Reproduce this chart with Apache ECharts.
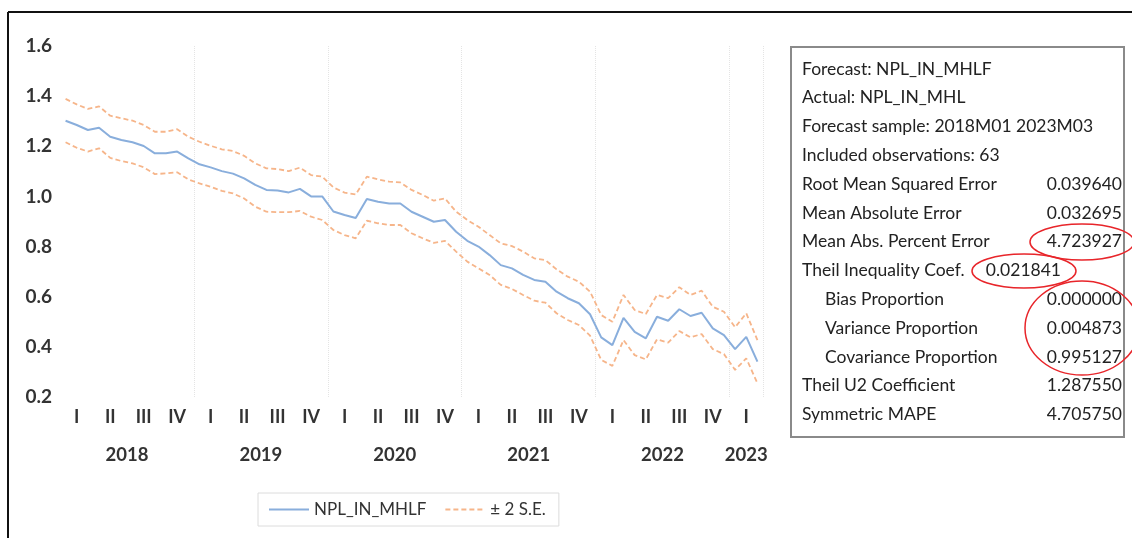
<!DOCTYPE html>
<html>
<head>
<meta charset="utf-8">
<title>NPL_IN_MHLF forecast</title>
<script src="https://cdn.jsdelivr.net/npm/echarts@6/dist/echarts.min.js"></script>
<style>
  html, body { margin: 0; padding: 0; background: #fff; }
  #chart { width: 1132px; height: 538px; }
</style>
</head>
<body>
<div id="chart"></div>
<script>
// forecast sample 2018M01 .. 2023M03 (63 obs)
const months = [];
for (let y = 2018; y <= 2023; y++) {
  for (let m = 1; m <= 12; m++) {
    if (y === 2023 && m > 3) break;
    months.push(y + 'M' + String(m).padStart(2, '0'));
  }
}

const forecast = [
  1.302, 1.285, 1.265, 1.274, 1.238, 1.225, 1.216, 1.201, 1.172, 1.172, 1.179, 1.152,
  1.128, 1.116, 1.101, 1.091, 1.072, 1.046, 1.026, 1.024, 1.016, 1.030, 1.000, 1.000,
  0.940, 0.926, 0.914, 0.990, 0.979, 0.972, 0.972, 0.939, 0.919, 0.899, 0.906, 0.859,
  0.823, 0.800, 0.766, 0.726, 0.713, 0.687, 0.667, 0.660, 0.620, 0.594, 0.574, 0.530,
  0.438, 0.407, 0.516, 0.460, 0.434, 0.520, 0.504, 0.550, 0.523, 0.536, 0.474, 0.447,
  0.391, 0.440, 0.341
];
const upper = [
  1.389, 1.367, 1.349, 1.359, 1.322, 1.312, 1.302, 1.285, 1.258, 1.258, 1.268, 1.238,
  1.218, 1.202, 1.188, 1.181, 1.162, 1.132, 1.112, 1.109, 1.101, 1.115, 1.085, 1.079,
  1.036, 1.015, 1.008, 1.079, 1.068, 1.059, 1.056, 1.026, 1.006, 0.983, 0.992, 0.939,
  0.906, 0.879, 0.846, 0.813, 0.802, 0.780, 0.753, 0.746, 0.709, 0.680, 0.660, 0.620,
  0.527, 0.500, 0.607, 0.547, 0.531, 0.607, 0.594, 0.638, 0.607, 0.624, 0.560, 0.540,
  0.478, 0.534, 0.427
];
const lower = [
  1.216, 1.194, 1.179, 1.192, 1.154, 1.141, 1.132, 1.116, 1.089, 1.092, 1.096, 1.068,
  1.052, 1.039, 1.022, 1.012, 0.992, 0.959, 0.939, 0.937, 0.937, 0.942, 0.919, 0.906,
  0.866, 0.846, 0.833, 0.903, 0.893, 0.886, 0.886, 0.853, 0.833, 0.815, 0.823, 0.780,
  0.740, 0.713, 0.687, 0.647, 0.631, 0.607, 0.584, 0.576, 0.534, 0.507, 0.487, 0.445,
  0.348, 0.324, 0.427, 0.367, 0.350, 0.430, 0.417, 0.463, 0.438, 0.451, 0.391, 0.371,
  0.308, 0.354, 0.255
];

const quarterNames = ['I', 'II', 'III', 'IV'];

const statLabels = [
  'Forecast: NPL_IN_MHLF',
  'Actual: NPL_IN_MHL',
  'Forecast sample: 2018M01 2023M03',
  'Included observations: 63',
  'Root Mean Squared Error',
  'Mean Absolute Error',
  'Mean Abs. Percent Error',
  'Theil Inequality Coef.',
  'Bias Proportion',
  'Variance Proportion',
  'Covariance Proportion',
  'Theil U2 Coefficient',
  'Symmetric MAPE'
];
const statValues = ['', '', '', '', '0.039640', '0.032695', '4.723927', '0.021841',
  '0.000000', '0.004873', '0.995127', '1.287550', '4.705750'];
const statIndent = [0, 0, 0, 0, 0, 0, 0, 0, 1, 1, 1, 0, 0];

// half-month grid for the year labels (centred on each year's months)
const halfSlots = [];
for (let i = 0; i <= months.length * 2; i++) halfSlots.push(String(i));
const yearAt = {};
months.forEach((m, i) => {
  const y = m.slice(0, 4);
  if (!yearAt[y]) yearAt[y] = { start: i, n: 0 };
  yearAt[y].n++;
});
const yearSlot = {};
Object.keys(yearAt).forEach(y => { yearSlot[2 * yearAt[y].start + yearAt[y].n] = y; });

const labelFont = 'Lato, "Open Sans", sans-serif';

let chart = echarts.init(document.getElementById('chart'));

// frame + stats table as text
let graphics = [
  { type: 'line', shape: { x1: 8, y1: 12, x2: 1132, y2: 12 }, style: { stroke: '#111', lineWidth: 2 } },
  { type: 'line', shape: { x1: 8, y1: 12, x2: 8, y2: 538 }, style: { stroke: '#111', lineWidth: 2 } },
  { type: 'rect', shape: { x: 791, y: 47, width: 333, height: 390 }, style: { fill: '#fff', stroke: '#8a8a8a', lineWidth: 2 } }
];
statLabels.forEach((t, i) => {
  const y = 69 + i * 28.8;
  graphics.push({
    type: 'text', x: statIndent[i] ? 825 : 802, y: y,
    style: { text: t, font: '17.5px ' + labelFont, fill: '#222', verticalAlign: 'middle' }
  });
  if (statValues[i]) {
    graphics.push({
      type: 'text', x: i === 7 ? 1061 : 1122, y: y,
      style: { text: statValues[i], font: '17.5px ' + labelFont, fill: '#222', align: 'right', verticalAlign: 'middle' }
    });
  }
});
// red hand-drawn circles
graphics.push(
  { type: 'ellipse', shape: { cx: 1082, cy: 242, rx: 52, ry: 18 }, style: { fill: 'none', stroke: '#e8252a', lineWidth: 1.5 } },
  { type: 'ellipse', shape: { cx: 1024, cy: 271, rx: 52, ry: 17 }, style: { fill: 'none', stroke: '#e8252a', lineWidth: 1.5 } },
  { type: 'ellipse', shape: { cx: 1082, cy: 328, rx: 57, ry: 47 }, style: { fill: 'none', stroke: '#e8252a', lineWidth: 1.5 } }
);

let option = {
  backgroundColor: '#fff',
  animation: false,
  grid: { left: 60, top: 46, width: 703, bottom: 141 },
  legend: {
    left: 258, top: 493,
    data: ['NPL_IN_MHLF', '± 2 S.E.'],
    borderColor: '#dcdcdc', borderWidth: 1, borderRadius: 0,
    padding: [8, 13, 8, 10], itemWidth: 40, itemHeight: 10, itemGap: 18,
    itemStyle: { opacity: 0 },
    textStyle: { fontFamily: labelFont, fontSize: 17, color: '#333' }
  },
  xAxis: [
    {
      type: 'category', data: months, boundaryGap: true,
      axisLine: { show: false }, axisTick: { show: false },
      axisLabel: {
        interval: (idx) => idx % 3 === 1,
        formatter: (v) => quarterNames[Math.ceil(parseInt(v.slice(5), 10) / 3) - 1],
        margin: 11, fontFamily: labelFont, fontSize: 18, fontWeight: 'bold', color: '#333'
      },
      splitLine: {
        show: true,
        interval: (idx) => idx > 0 && idx % 12 === 0,
        lineStyle: { color: '#e4e4e4', width: 1, type: 'dotted' }
      }
    },
    {
      type: 'category', data: halfSlots, boundaryGap: false, position: 'bottom',
      axisLine: { show: false }, axisTick: { show: false }, splitLine: { show: false },
      axisLabel: {
        interval: (idx) => yearSlot[idx] !== undefined,
        formatter: (v, idx) => yearSlot[idx] || '',
        margin: 49, fontFamily: labelFont, fontSize: 18.5, fontWeight: 'bold', color: '#333'
      }
    }
  ],
  yAxis: {
    type: 'value', min: 0.2, max: 1.6, interval: 0.2,
    axisLine: { show: false }, axisTick: { show: false }, splitLine: { show: false },
    axisLabel: {
      margin: 8, fontFamily: labelFont, fontSize: 19, fontWeight: 'bold', color: '#333',
      formatter: (v) => v.toFixed(1)
    }
  },
  series: [
    {
      name: 'NPL_IN_MHLF', type: 'line', data: forecast, symbol: 'none',
      lineStyle: { color: '#89aedc', width: 2 }, itemStyle: { color: '#89aedc' }
    },
    {
      name: '± 2 S.E.', type: 'line', data: upper, symbol: 'none',
      lineStyle: { color: '#f6b58a', width: 1.8, type: [5, 3] }, itemStyle: { color: '#f6b58a' }
    },
    {
      name: '± 2 S.E.', type: 'line', data: lower, symbol: 'none',
      lineStyle: { color: '#f6b58a', width: 1.8, type: [5, 3] }, itemStyle: { color: '#f6b58a' }
    }
  ],
  graphic: graphics
};
chart.setOption(option);
</script>
</body>
</html>
